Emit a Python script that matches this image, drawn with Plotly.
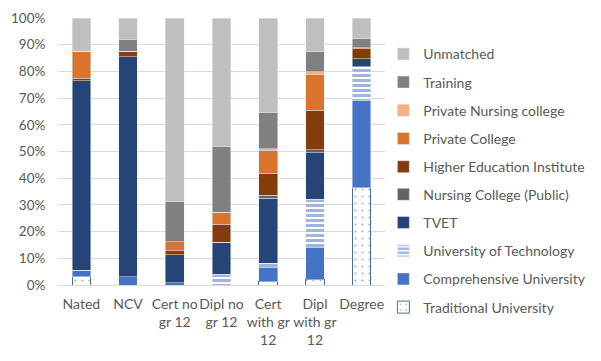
import plotly.graph_objects as go

categories = ["Nated", "NCV", "Cert no gr 12", "Dipl no gr 12", "Cert with gr 12", "Dipl with gr 12", "Degree"]
tick_text = ["Nated", "NCV", "Cert no<br>gr 12", "Dipl no<br>gr 12", "Cert<br>with gr<br>12", "Dipl<br>with gr<br>12", "Degree"]

traditional = [3.0, 0.0, 0.0, 0.0, 1.5, 2.1, 36.5]
comprehensive = [2.5, 3.0, 0.8, 0.0, 5.2, 12.0, 32.5]
uni_tech = [0.0, 0.0, 0.0, 4.1, 1.5, 18.0, 12.7]
tvet = [71.0, 82.5, 10.5, 12.0, 24.3, 17.5, 3.0]
nursing_public = [0.0, 0.0, 0.0, 0.0, 1.1, 1.0, 0.0]
hei = [1.0, 2.0, 1.5, 6.7, 8.2, 14.9, 3.7]
private_college = [10.0, 0.0, 3.4, 4.5, 8.6, 13.5, 0.5]
private_nursing = [0.0, 0.0, 0.0, 0.0, 0.7, 0.9, 0.0]
training = [0.0, 4.5, 15.0, 24.7, 13.4, 7.5, 3.4]
unmatched = [12.5, 8.0, 68.8, 48.0, 35.5, 12.6, 7.7]

text_color = "#595959"
font_family = "Lato, Carlito, Calibri, sans-serif"

series = [
    ("Traditional University", traditional, dict(color="white", line=dict(color="#41719C", width=1),
                                                 pattern=dict(shape=".", fgcolor="#41719C", bgcolor="white", size=7, solidity=0.08))),
    ("Comprehensive University", comprehensive, dict(color="#4472C4")),
    ("University of Technology", uni_tech, dict(color="white",
                                               pattern=dict(shape="-", fgcolor="#3F6BBA", bgcolor="white", size=5, solidity=0.6))),
    ("TVET", tvet, dict(color="#264478")),
    ("Nursing College (Public)", nursing_public, dict(color="#636363")),
    ("Higher Education Institute", hei, dict(color="#843C0C")),
    ("Private College", private_college, dict(color="#D9732E")),
    ("Private Nursing college", private_nursing, dict(color="#F4B183")),
    ("Training", training, dict(color="#808080")),
    ("Unmatched", unmatched, dict(color="#BFBFBF")),
]

fig = go.Figure()
for i, (name, vals, marker) in enumerate(series):
    # legend is too tall for one plotly legend box, so split it in two
    fig.add_trace(go.Bar(x=categories, y=vals, name=name, marker=marker,
                         legendgroup=name, legendrank=100 - i,
                         legend="legend2" if i < 5 else "legend"))

legend_style = dict(x=0.995, xanchor="left", yanchor="top", traceorder="grouped",
                    tracegroupgap=7, font=dict(size=14, color=text_color),
                    bgcolor="rgba(0,0,0,0)")

# page body has an 8px margin, so the figure is 8px smaller and shifted
fig.update_layout(
    barmode="stack",
    bargap=0.6,
    width=593, height=353,
    margin=dict(l=50, r=213, t=10, b=76),
    paper_bgcolor="white",
    plot_bgcolor="white",
    font=dict(family=font_family, size=13, color=text_color),
    legend=dict(y=0.924, **legend_style),
    legend2=dict(y=0.398, **legend_style),
    xaxis=dict(tickvals=categories, ticktext=tick_text, showline=True, linecolor="#D9D9D9",
               ticks="outside", ticklen=6, tickcolor="rgba(0,0,0,0)", tickangle=0,
               tickfont=dict(size=14), automargin=False),
    yaxis=dict(range=[0, 100], dtick=10, ticksuffix="%", showgrid=True, gridcolor="#D9D9D9",
               zeroline=False, ticks="outside", ticklen=9, tickcolor="rgba(0,0,0,0)",
               tickfont=dict(size=13.5), automargin=False),
)

fig.write_html("out.html")
